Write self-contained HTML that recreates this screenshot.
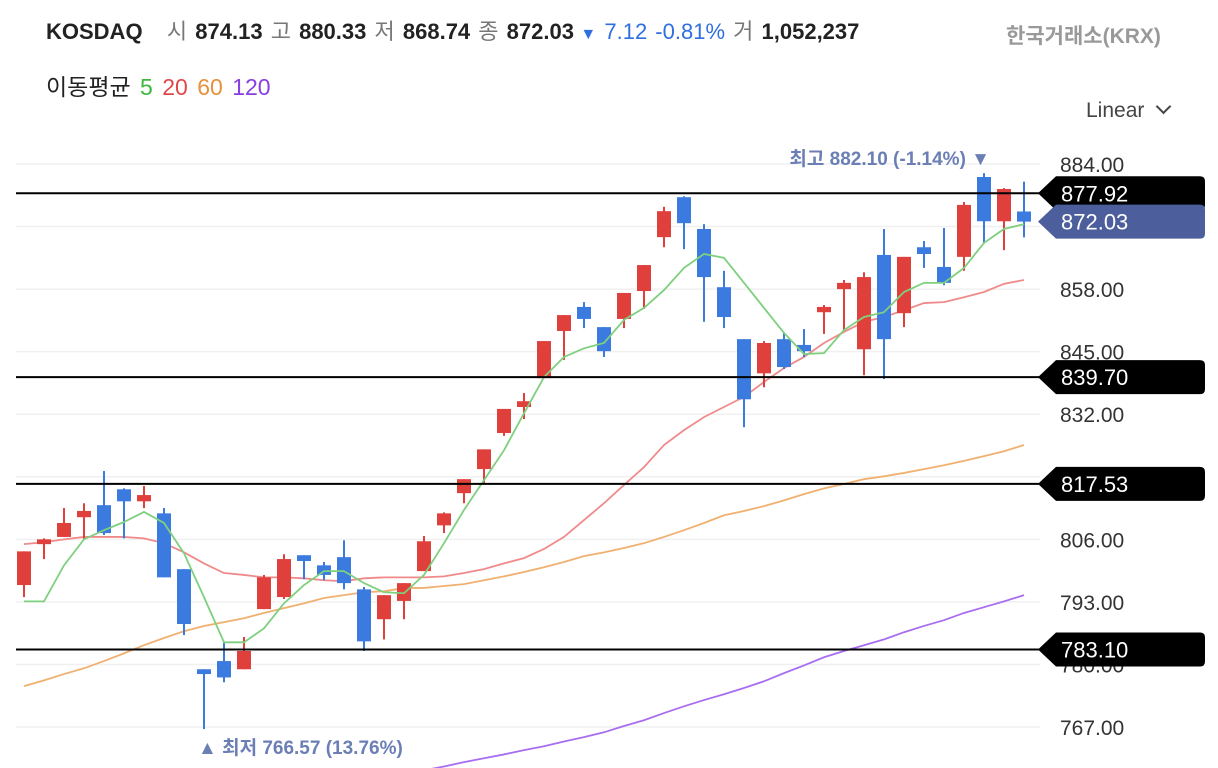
<!DOCTYPE html>
<html><head><meta charset="utf-8">
<style>
html,body{margin:0;padding:0;background:#fff;width:1218px;height:768px;overflow:hidden;font-family:"Liberation Sans","Noto Sans CJK KR",sans-serif;}
.hdr{position:absolute;left:46px;top:14px;font-size:22px;color:#222;white-space:nowrap;word-spacing:2px;}
.hdr b{font-weight:bold}
.g{color:#777}
.blue{color:#2f6fe0}
svg{position:absolute;left:0;top:0}
</style></head><body>
<div class="hdr"><b>KOSDAQ</b>&nbsp;&nbsp; <span class="g">시</span> <b>874.13</b> <span class="g">고</span> <b>880.33</b> <span class="g">저</span> <b>868.74</b> <span class="g">종</span> <b>872.03</b><span class="blue" style="font-size:16px"> ▼</span> <span class="blue">7.12 -0.81%</span> <span class="g">거</span> <b>1,052,237</b></div>
<div style="position:absolute;left:1006px;top:20px;font-size:21px;font-weight:bold;color:#999">한국거래소(KRX)</div>
<div style="position:absolute;left:46px;top:68px;font-size:23px;color:#222;word-spacing:3px">이동평균 <span style="color:#3cb83c">5</span> <span style="color:#e04848">20</span> <span style="color:#e8903a">60</span> <span style="color:#8a3de0">120</span></div>
<div style="position:absolute;left:1086px;top:99px;font-size:21px;color:#444">Linear <span style="display:inline-block;width:9px;height:9px;border-right:2px solid #444;border-bottom:2px solid #444;transform:rotate(45deg);margin-left:8px;position:relative;top:-5px"></span></div>
<svg id="chart" width="1218" height="768"></svg>
<script>
const opens=[796.5,805.0,806.5,810.6,813.1,816.4,813.9,811.4,799.8,779.0,780.7,779.0,791.5,794.0,802.7,800.6,802.3,795.6,789.4,793.2,799.4,808.9,815.6,820.6,828.1,833.5,839.5,849.3,854.3,850.1,851.8,857.6,868.8,877.1,870.5,858.4,847.6,840.5,847.6,846.4,853.2,858.0,845.5,865.1,853.0,866.7,862.6,864.7,881.3,872.1,874.13];
const highs=[803.5,806.2,812.5,813.5,820.2,816.6,817.1,812.5,799.8,779.0,784.8,785.7,798.6,802.9,802.7,801.3,805.8,796.1,794.4,796.9,806.7,811.6,818.5,824.7,833.1,836.4,847.2,852.6,855.3,850.1,857.2,863.0,875.1,877.3,871.5,861.8,847.6,847.2,848.9,849.7,854.7,859.9,861.5,870.5,864.7,868.0,870.7,876.1,882.1,879.0,880.33];
const lows=[794.0,801.9,806.5,806.0,806.9,806.2,812.5,798.1,786.1,766.57,776.3,779.0,791.5,793.6,797.7,797.5,795.6,782.8,785.2,789.4,799.4,807.3,813.5,817.7,827.5,831.0,839.5,843.3,849.9,843.9,849.9,853.9,866.7,866.3,851.2,849.9,829.3,837.6,841.4,843.9,848.7,849.5,840.1,839.3,850.1,862.4,858.8,861.8,867.6,866.1,868.74];
const closes=[803.5,806.0,809.4,811.9,807.3,813.9,815.2,798.1,788.4,778.0,777.3,782.8,798.1,801.9,801.5,798.6,796.9,784.8,794.4,796.9,805.6,811.4,818.5,824.7,833.1,834.7,847.2,852.6,851.8,845.1,857.2,863.0,874.2,871.7,860.5,852.2,835.1,846.8,841.8,845.1,854.3,859.3,860.5,847.6,864.7,865.3,859.3,875.5,872.1,878.8,872.03];
const ma5=[793.1,793.1,800.6,806.0,807.9,809.6,811.7,809.4,803.1,794.0,784.6,784.6,787.5,792.7,796.5,799.4,799.4,796.9,795.0,794.8,798.6,805.2,812.1,818.3,824.5,832.2,839.7,843.9,845.7,846.8,851.6,854.1,857.8,862.4,865.3,864.5,859.3,854.1,848.9,844.5,844.7,849.5,852.2,853.2,857.4,859.3,859.3,862.4,867.6,870.5,871.5];
const ma20=[805.0,805.4,806.0,806.5,806.5,806.5,806.2,805.2,803.3,801.0,799.0,798.6,798.1,798.1,797.9,797.5,797.3,797.9,798.1,798.1,798.1,798.3,799.0,799.8,801.0,802.1,804.0,806.5,810.0,813.5,817.3,821.0,825.6,828.7,831.4,833.5,835.6,838.7,841.6,843.9,846.8,849.1,851.2,852.2,853.6,855.1,855.3,856.3,857.4,859.1,859.9];
const ma60=[775.5,776.7,778.0,779.2,780.7,782.3,784.0,785.5,786.9,788.0,788.8,789.6,790.7,791.7,792.7,793.8,794.4,795.0,795.2,795.9,795.9,796.3,796.7,797.5,798.3,799.2,800.2,801.3,802.5,803.3,804.2,805.2,806.5,807.9,809.4,811.0,811.9,812.9,814.1,815.4,816.6,817.5,818.5,819.1,819.8,820.6,821.4,822.3,823.3,824.3,825.6];
const ma120=[null,null,null,null,null,null,null,null,null,null,null,null,null,null,null,null,null,null,null,null,758.0,758.8,759.7,760.5,761.3,762.2,763.0,764.0,764.9,765.9,767.2,768.4,769.9,771.3,772.6,773.8,775.1,776.5,778.2,779.8,781.5,782.8,784.0,785.2,786.7,788.0,789.2,790.7,791.9,793.1,794.4];
const yTicks=[884,871,858,845,832,819,806,793,780,767];
const levels=[877.92,839.70,817.53,783.10];
const lastPrice=872.03;
const highNote="최고 882.10 (-1.14%)";
const lowNote="최저 766.57 (13.76%)";

const NS="http://www.w3.org/2000/svg";
const svg=document.getElementById('chart');
const Y=v=>164+(884-v)*4.812;
const X=i=>24+i*20;
function mk(tag,attrs,parent){const e=document.createElementNS(NS,tag);for(const k in attrs)e.setAttribute(k,attrs[k]);(parent||svg).appendChild(e);return e;}
const defs=mk('defs',{});
const cp=mk('clipPath',{id:'plotclip'},defs);
mk('rect',{x:14,y:140,width:1026,height:628},cp);

yTicks.forEach(t=>{
  const l=mk('line',{x1:16,x2:1040,y1:Y(t),y2:Y(t),stroke:'#f0f0f0','stroke-width':1.5});
  
  
  const tx=mk('text',{x:1060,y:Y(t)+8,'font-size':21,fill:'#333','font-family':'Liberation Sans, sans-serif'});
  tx.textContent=t.toFixed(2);
  
  
});

const g=mk('g',{'clip-path':'url(#plotclip)'});
function line(arr,color,name){
  let d='';arr.forEach((v,i)=>{if(v==null)return;d+=(d?'L':'M')+X(i)+','+Y(v);});
  const p=mk('path',{d:d,fill:'none',stroke:color,'stroke-width':1.8},g);
  
  
}
line(ma120,'#a86ef0','ma120-line');
line(ma60,'#f0b070','ma60-line');
line(ma20,'#f08a8a','ma20-line');

levels.forEach(v=>{
  const l=mk('line',{x1:16,x2:1040,y1:Y(v),y2:Y(v),stroke:'#000','stroke-width':2});
  
  
});

opens.forEach((o,i)=>{
  const c=closes[i],up=c>=o,col=up?'#e0403c':'#3b7be0';
  const grp=mk('g',{},g);
  
  
  mk('line',{x1:X(i),x2:X(i),y1:Y(highs[i]),y2:Y(lows[i]),stroke:col,'stroke-width':2},grp);
  const t=Y(Math.max(o,c)),b=Y(Math.min(o,c));
  mk('rect',{x:X(i)-7,y:t,width:14,height:Math.max(2,b-t),fill:col},grp);
});
line(ma5,'#7ed07e','ma5-line');

function tag(v,color,name){
  const y=Y(v),gg=mk('g',{});
  
  
  mk('path',{d:`M1038,${y} L1056,${y-17} L1200,${y-17} Q1205,${y-17} 1205,${y-12} L1205,${y+12} Q1205,${y+17} 1200,${y+17} L1056,${y+17} Z`,fill:color},gg);
  const tx=mk('text',{x:1061,y:y+8,'font-size':22,fill:'#fff','font-family':'Liberation Sans, sans-serif'},gg);
  tx.textContent=v.toFixed(2);
}
levels.forEach(v=>tag(v,'#000','level-tag'));
tag(lastPrice,'#4d5e9c','last-price-tag');

const hn=mk('text',{x:990,y:Y(882.1)-8,'text-anchor':'end','font-size':19,fill:'#6b7fb5','font-weight':'bold','font-family':'Liberation Sans, Noto Sans CJK KR, sans-serif'});
hn.textContent=highNote+' ▼';


const ln=mk('text',{x:198,y:754,'font-size':19,fill:'#6b7fb5','font-weight':'bold','font-family':'Liberation Sans, Noto Sans CJK KR, sans-serif'});
ln.textContent='▲ '+lowNote;


</script>
</body></html>
